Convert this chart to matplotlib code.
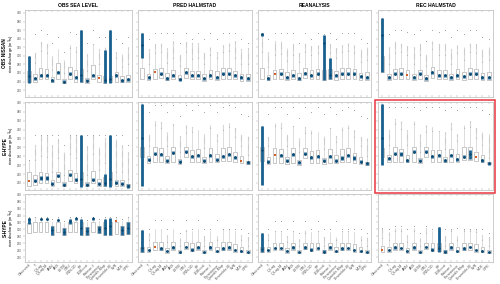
import numpy as np
import matplotlib.pyplot as plt
from matplotlib.patches import Rectangle

plt.rcParams['font.family'] = ['Liberation Sans', 'DejaVu Sans']

models = ['Observed', 'T', 'Q-Lag', 'Q-Lag-M', 'ANN', 'ARX', 'LSTM', 'GRU', 'CNN-1D',
          'RF', 'XGBoost', 'Kalman-f', 'Persistence', 'Quantile-Map', 'Ensemble-M',
          'SVR', 'MLR', 'GPR']
col_titles = ['OBS SEA LEVEL', 'PRED HALMSTAD', 'REANALYSIS', 'REC HALMSTAD']
row_titles = ['OBS NISSAN', 'E-HYPE', 'S-HYPE']
yticks = [220, 240, 260, 280, 300, 320, 340, 360, 380, 400]

# ---- row 1: OBS NISSAN ----
r1c1_q1 = [240, 240, 245, 245, 238, 247, 236, 245, 240, 240, 237, 245, 240, 236, 238, 240, 238, 238]
r1c1_med = [253, 248, 255, 255, 243, 262, 240, 258, 250, 255, 242, 255, 248, 243, 245, 255, 243, 245]
r1c1_q3 = [265, 257, 272, 270, 250, 283, 246, 274, 268, 270, 248, 278, 256, 252, 254, 262, 252, 255]
r1c1_dense = [300, 310, 335, 330, 300, 315, 290, 325, 320, 360, 305, 330, 315, 320, 360, 310, 305, 320]
r1c1_top = [300, 350, 360, 350, 330, 345, 310, 355, 350, 360, 330, 360, 345, 345, 360, 340, 330, 345]
r1c1_bands = {0: (237, 300), 9: (238, 360), 13: (236, 313), 14: (236, 360)}
r1c1_orange = 12

r1c2_q1 = [247, 243, 246, 248, 244, 246, 243, 248, 246, 245, 242, 245, 243, 247, 246, 245, 242, 242]
r1c2_med = [325, 250, 262, 258, 248, 255, 246, 262, 255, 255, 248, 255, 250, 258, 258, 255, 250, 248]
r1c2_q3 = [272, 258, 270, 272, 260, 266, 256, 272, 265, 265, 258, 268, 264, 272, 272, 265, 258, 258]
r1c2_dense = [353, 315, 330, 330, 318, 335, 305, 335, 330, 330, 310, 320, 310, 325, 330, 335, 315, 318]
r1c2_top = [353, 340, 353, 353, 353, 353, 330, 353, 340, 353, 340, 353, 340, 353, 353, 353, 340, 330]
r1c2_bands = {0: (295, 353)}
r1c2_orange = 2

r1c3_q1 = [247, 244, 246, 247, 244, 246, 243, 248, 246, 246, 244, 245, 244, 247, 246, 246, 243, 243]
r1c3_med = [350, 248, 258, 258, 250, 255, 248, 260, 255, 258, 330, 255, 255, 258, 258, 258, 252, 250]
r1c3_q3 = [272, 256, 268, 270, 262, 268, 260, 272, 268, 270, 268, 270, 264, 272, 272, 270, 260, 262]
r1c3_dense = [350, 310, 335, 335, 318, 330, 310, 330, 325, 325, 345, 330, 320, 325, 330, 325, 315, 320]
r1c3_top = [350, 340, 353, 353, 353, 353, 330, 353, 340, 353, 350, 353, 340, 353, 353, 353, 340, 330]
r1c3_bands = {0: (346, 354), 10: (243, 349), 11: (245, 295)}
r1c3_orange = 2

r1c4_q1 = [262, 243, 246, 247, 246, 243, 246, 242, 248, 246, 245, 243, 245, 243, 247, 246, 243, 243]
r1c4_med = [349, 250, 258, 258, 255, 250, 258, 248, 262, 255, 255, 250, 255, 252, 258, 258, 250, 250]
r1c4_q3 = [300, 258, 270, 272, 268, 258, 268, 256, 275, 268, 268, 258, 270, 262, 272, 270, 260, 262]
r1c4_dense = [388, 320, 335, 330, 325, 320, 330, 305, 335, 330, 330, 315, 325, 320, 330, 330, 315, 320]
r1c4_top = [388, 350, 360, 360, 355, 350, 360, 335, 360, 355, 360, 345, 360, 350, 360, 360, 345, 340]
r1c4_bands = {0: (262, 388)}
r1c4_orange = 4

# ---- row 2: E-HYPE ----
r2c1_q1 = [213, 216, 220, 220, 214, 222, 212, 224, 220, 216, 212, 220, 214, 213, 216, 214, 213, 211]
r2c1_med = [225, 225, 231, 231, 218, 236, 216, 238, 227, 229, 216, 227, 218, 220, 229, 220, 218, 213]
r2c1_q3 = [244, 238, 244, 243, 226, 244, 222, 248, 242, 244, 222, 246, 228, 234, 244, 226, 226, 218]
r2c1_dense = [271, 305, 327, 327, 305, 320, 290, 327, 327, 327, 305, 327, 300, 320, 327, 318, 305, 290]
r2c1_top = [271, 327, 327, 327, 327, 327, 305, 327, 327, 327, 327, 327, 327, 327, 327, 327, 327, 305]
r2c1_bands = {0: (211, 271), 9: (211, 327), 13: (213, 240), 14: (211, 327)}
r2c1_orange = 0

r2c2_q1 = [278, 265, 267, 267, 265, 267, 263, 278, 267, 267, 265, 267, 266, 270, 270, 268, 265, 262]
r2c2_med = [322, 272, 286, 284, 270, 288, 268, 290, 280, 282, 270, 282, 272, 280, 284, 278, 270, 266]
r2c2_q3 = [300, 280, 300, 298, 280, 300, 274, 300, 294, 296, 278, 298, 285, 298, 300, 290, 280, 270]
r2c2_dense = [398, 330, 360, 358, 335, 355, 325, 350, 345, 340, 330, 350, 330, 350, 355, 345, 330, 325]
r2c2_top = [398, 380, 395, 395, 380, 395, 370, 395, 385, 395, 380, 395, 380, 390, 395, 390, 375, 370]
r2c2_bands = {0: (212, 398)}
r2c2_orange = 16

r2c3_q1 = [270, 262, 265, 265, 262, 265, 260, 275, 265, 265, 262, 265, 264, 268, 268, 265, 262, 260]
r2c3_med = [293, 268, 282, 282, 270, 284, 266, 286, 278, 280, 270, 280, 270, 276, 282, 276, 268, 264]
r2c3_q3 = [300, 278, 298, 296, 278, 298, 272, 298, 292, 294, 276, 296, 283, 296, 298, 288, 278, 268]
r2c3_dense = [349, 325, 355, 355, 330, 350, 320, 345, 340, 335, 325, 345, 325, 345, 350, 340, 325, 320]
r2c3_top = [349, 375, 390, 390, 375, 390, 365, 390, 380, 390, 375, 390, 375, 385, 390, 385, 370, 365]
r2c3_bands = {0: (216, 349)}
r2c3_orange = 2

r2c4_q1 = [278, 267, 267, 267, 267, 267, 265, 279, 267, 267, 267, 267, 267, 271, 271, 270, 267, 262]
r2c4_med = [322, 275, 286, 285, 271, 290, 270, 290, 280, 282, 271, 282, 273, 279, 286, 279, 271, 264]
r2c4_q3 = [298, 282, 301, 297, 282, 301, 275, 301, 295, 295, 279, 297, 286, 300, 301, 290, 282, 268]
r2c4_dense = [398, 338, 364, 360, 340, 360, 330, 350, 345, 340, 335, 355, 330, 350, 360, 345, 335, 330]
r2c4_top = [398, 390, 390, 390, 390, 390, 385, 390, 390, 390, 385, 390, 385, 390, 390, 390, 385, 375]
r2c4_bands = {0: (260, 398), 14: (273, 295)}
r2c4_orange = 15

# ---- row 3: S-HYPE ----
r3c1_q1 = [290, 292, 292, 292, 283, 292, 283, 292, 292, 283, 283, 292, 289, 283, 283, 288, 283, 288]
r3c1_med = [330, 305, 330, 330, 297, 328, 292, 325, 332, 305, 295, 332, 300, 305, 310, 323, 297, 305]
r3c1_q3 = [317, 321, 321, 321, 311, 321, 303, 321, 321, 321, 306, 321, 311, 321, 321, 321, 311, 321]
r3c1_dense = [334, 334, 334, 334, 322, 334, 318, 334, 334, 334, 320, 334, 325, 334, 334, 334, 325, 334]
r3c1_top = [336, 336, 336, 336, 330, 336, 325, 336, 336, 336, 328, 336, 330, 336, 336, 336, 330, 336]
r3c1_bands = {0: (315, 332), 1: None, 2: (326, 333), 3: (326, 333), 4: (283, 311), 5: (325, 331),
              6: (283, 303), 7: (316, 330), 8: (327, 334), 9: (283, 331), 10: (283, 306),
              11: (327, 334), 12: (289, 311), 13: (283, 330), 14: (283, 332), 15: (311, 330),
              16: (283, 311), 17: (288, 321)}
r3c1_orange = 15

r3c2_q1 = [235, 235, 240, 240, 233, 240, 232, 244, 237, 240, 232, 240, 235, 240, 240, 235, 235, 232]
r3c2_med = [245, 240, 248, 245, 237, 248, 235, 249, 242, 248, 235, 248, 237, 245, 248, 240, 237, 235]
r3c2_q3 = [250, 249, 264, 264, 245, 264, 240, 264, 262, 264, 240, 264, 249, 264, 264, 259, 249, 240]
r3c2_dense = [297, 290, 300, 300, 285, 300, 275, 300, 295, 300, 285, 295, 280, 300, 300, 295, 285, 280]
r3c2_top = [297, 300, 328, 328, 300, 328, 290, 328, 300, 328, 300, 300, 328, 300, 300, 300, 300, 290]
r3c2_bands = {0: (234, 297)}
r3c2_orange = 2

r3c3_q1 = [236, 235, 240, 240, 233, 240, 232, 243, 237, 240, 232, 240, 235, 240, 240, 235, 235, 232]
r3c3_med = [244, 240, 247, 246, 237, 248, 235, 248, 242, 247, 236, 248, 237, 245, 247, 240, 237, 235]
r3c3_q3 = [250, 249, 262, 262, 245, 262, 240, 262, 260, 262, 240, 262, 249, 262, 262, 258, 249, 240]
r3c3_dense = [290, 288, 298, 298, 282, 298, 272, 298, 292, 298, 282, 292, 278, 298, 298, 292, 282, 278]
r3c3_top = [290, 300, 325, 325, 300, 325, 290, 325, 300, 325, 300, 300, 325, 300, 300, 300, 300, 290]
r3c3_bands = {0: (236, 290)}
r3c3_orange = None

r3c4_q1 = [236, 235, 240, 240, 233, 240, 232, 243, 237, 238, 232, 240, 235, 240, 240, 235, 235, 232]
r3c4_med = [240, 240, 248, 247, 237, 248, 235, 249, 242, 246, 236, 248, 237, 245, 250, 240, 237, 235]
r3c4_q3 = [252, 249, 262, 262, 245, 262, 240, 262, 260, 262, 240, 262, 249, 262, 262, 258, 249, 240]
r3c4_dense = [305, 292, 305, 305, 285, 305, 275, 305, 295, 306, 285, 300, 280, 300, 300, 300, 285, 280]
r3c4_top = [305, 300, 310, 310, 300, 310, 290, 310, 300, 306, 300, 300, 305, 300, 300, 300, 300, 290]
r3c4_bands = {0: (235, 255), 9: (235, 306)}
r3c4_orange = 0

panels = [
    [(r1c1_q1, r1c1_med, r1c1_q3, r1c1_dense, r1c1_top, r1c1_bands, r1c1_orange),
     (r1c2_q1, r1c2_med, r1c2_q3, r1c2_dense, r1c2_top, r1c2_bands, r1c2_orange),
     (r1c3_q1, r1c3_med, r1c3_q3, r1c3_dense, r1c3_top, r1c3_bands, r1c3_orange),
     (r1c4_q1, r1c4_med, r1c4_q3, r1c4_dense, r1c4_top, r1c4_bands, r1c4_orange)],
    [(r2c1_q1, r2c1_med, r2c1_q3, r2c1_dense, r2c1_top, r2c1_bands, r2c1_orange),
     (r2c2_q1, r2c2_med, r2c2_q3, r2c2_dense, r2c2_top, r2c2_bands, r2c2_orange),
     (r2c3_q1, r2c3_med, r2c3_q3, r2c3_dense, r2c3_top, r2c3_bands, r2c3_orange),
     (r2c4_q1, r2c4_med, r2c4_q3, r2c4_dense, r2c4_top, r2c4_bands, r2c4_orange)],
    [(r3c1_q1, r3c1_med, r3c1_q3, r3c1_dense, r3c1_top, r3c1_bands, r3c1_orange),
     (r3c2_q1, r3c2_med, r3c2_q3, r3c2_dense, r3c2_top, r3c2_bands, r3c2_orange),
     (r3c3_q1, r3c3_med, r3c3_q3, r3c3_dense, r3c3_top, r3c3_bands, r3c3_orange),
     (r3c4_q1, r3c4_med, r3c4_q3, r3c4_dense, r3c4_top, r3c4_bands, r3c4_orange)],
]

blue = '#17608f'
orange = '#d2622c'
edge = '#c4c4c4'

W, H = 500, 284
fig = plt.figure(figsize=(5, 2.84), dpi=100)

col_px = [(25, 132), (138, 252), (258, 371), (378, 493)]
row_px = [(10, 97), (102, 190), (194, 262)]
row_ylim = [(204, 407), (204, 402), (206, 402)]

x = np.arange(1, len(models) + 1)

for r in range(3):
    for c in range(4):
        x0, x1 = col_px[c]
        y0, y1 = row_px[r]
        ax = fig.add_axes([x0 / W, 1 - y1 / H, (x1 - x0) / W, (y1 - y0) / H])
        q1, med, q3, dense, top, bands, orng = panels[r][c]

        stats = []
        for a, m, b, d in zip(q1, med, q3, dense):
            stats.append(dict(med=m, q1=a, q3=b, whislo=a, whishi=min(b + 1.5 * (b - a), d)))
        ax.bxp(stats, positions=x, widths=0.6, patch_artist=True, showfliers=False,
               showcaps=False,
               boxprops=dict(facecolor='white', edgecolor='#a8a8a8', linewidth=0.45),
               whiskerprops=dict(color='#cfcfcf', linewidth=0.5),
               medianprops=dict(linewidth=0))
        whis = [s['whishi'] for s in stats]
        ax.vlines(x, whis, dense, colors='#8c8c8c', linewidth=0.8,
                  linestyles=(0, (0.4, 0.6)), zorder=3)
        ax.scatter(x, top, s=0.35, color='#8c8c8c', linewidths=0, zorder=3)

        for i in range(len(models)):
            if i == orng:
                ax.scatter(x[i], med[i], marker='s', s=4, color=orange, linewidths=0, zorder=6)
                continue
            band = bands.get(i, (med[i] - 3.5, med[i] + 3.5))
            if band is None:
                continue
            ax.vlines(x[i], band[0], band[1], colors=blue, linewidth=2.0, zorder=4)
            ax.scatter(x[i], med[i], marker='D', s=2.5, color='#0d4a73', linewidths=0, zorder=5)

        ax.set_xlim(0.3, len(models) + 0.7)
        ax.set_ylim(*row_ylim[r])
        ax.set_yticks(yticks)
        ax.set_xticks(x)
        for sp in ax.spines.values():
            sp.set_color(edge)
            sp.set_linewidth(0.6)
        ax.tick_params(axis='both', length=1.3, width=0.3, color='#9a9a9a',
                       labelsize=2.1, labelcolor='#555555', pad=0.8)
        ax.tick_params(axis='x', top=True, direction='in')
        if c == 0:
            ax.text((5 - x0) / (x1 - x0), 0.5, row_titles[r], transform=ax.transAxes,
                    rotation=90, ha='center', va='center', fontsize=3.4, fontweight='bold')
            ax.text((11.5 - x0) / (x1 - x0), 0.5, 'river discharge (m$^3$/s)',
                    transform=ax.transAxes, rotation=90, ha='center', va='center',
                    fontsize=2.8)
        else:
            ax.set_yticklabels([])
        if r == 2:
            ax.set_xticklabels(models, rotation=45, ha='right', rotation_mode='anchor',
                               fontsize=2.6)
        else:
            ax.set_xticklabels([])
        if r == 0:
            ax.set_title(col_titles[c], fontsize=3.6, fontweight='bold', pad=2.5)

# highlight box around REC HALMSTAD / E-HYPE
fig.patches.append(Rectangle((375 / W, 1 - 193 / H), 120 / W, 93 / H, transform=fig.transFigure,
                             fill=False, edgecolor='#e8363e', linewidth=1.1))

plt.savefig('out.png', dpi=100)
